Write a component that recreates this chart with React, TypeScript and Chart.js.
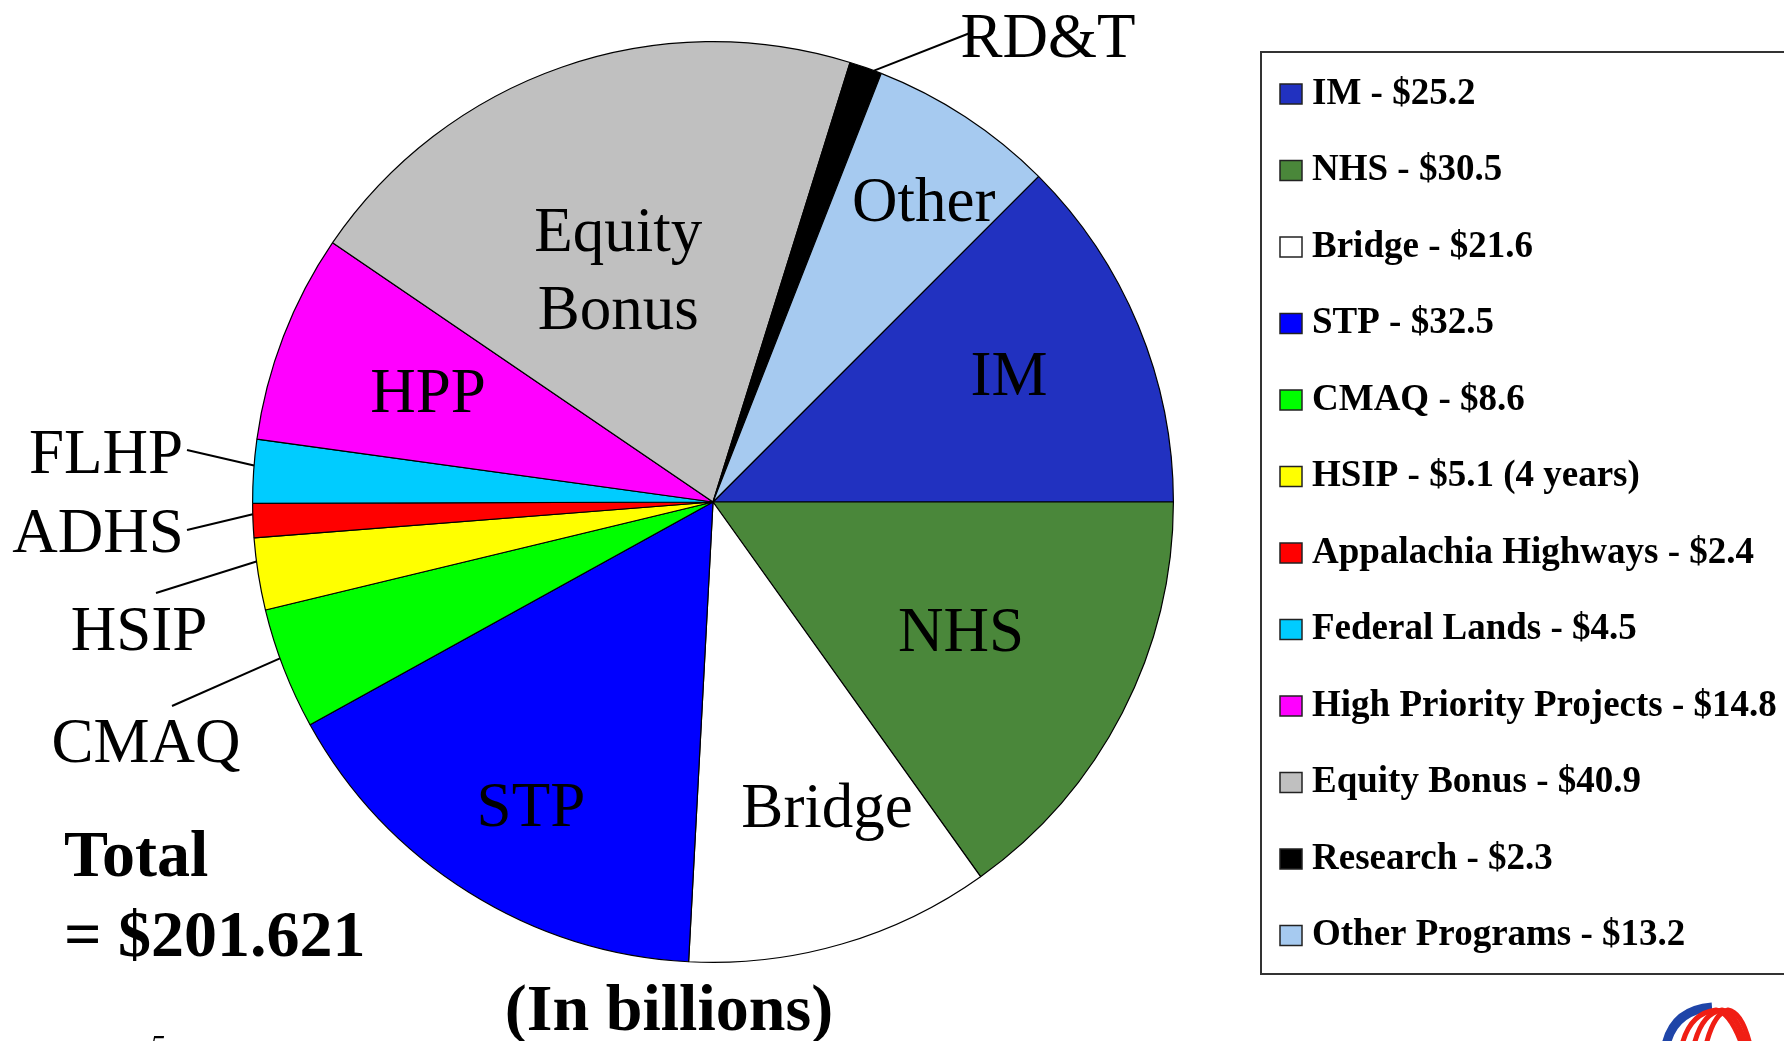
import React, { useEffect, useRef } from "react";
import { Chart, registerables } from "chart.js";

Chart.register(...registerables);

// ---- data ----
const categories = [
  "IM",
  "NHS",
  "Bridge",
  "STP",
  "CMAQ",
  "HSIP",
  "Appalachia Highways",
  "Federal Lands",
  "High Priority Projects",
  "Equity Bonus",
  "Research",
  "Other Programs",
];
const values = [25.2, 30.5, 21.6, 32.5, 8.6, 5.1, 2.4, 4.5, 14.8, 40.9, 2.3, 13.2];
const legendNotes = ["", "", "", "", "", " (4 years)", "", "", "", "", "", ""];
const sliceLabels = ["IM", "NHS", "Bridge", "STP", "CMAQ", "HSIP", "ADHS", "FLHP", "HPP", "Equity\nBonus", "RD&T", "Other"];
const totalLines = ["Total", "= $201.621"];
const unitNote = "(In billions)";
const pageNumber = "5";

// ---- styles ----
const colors = [
  "#2131C0",
  "#4A873A",
  "#FFFFFF",
  "#0000FF",
  "#00FF00",
  "#FFFF00",
  "#FF0000",
  "#00CCFF",
  "#FF00FF",
  "#C0C0C0",
  "#000000",
  "#A6CAF0",
];

// inside label placement: radial factor + angle tweak (deg)
const insidePlacement: Record<number, { f: number; da: number }> = {
  0: { f: 0.70, da: -0.8 },
  1: { f: 0.606, da: 0 },
  2: { f: 0.706, da: -4.3 },
  3: { f: 0.769, da: -1.1 },
  8: { f: 0.664, da: 0.2 },
  9: { f: 0.547, da: -2.9 },
  11: { f: 0.80, da: 1.7 },
};
// outside label placement: text center x / baseline y, leader end point, leader start angle tweak
const outsidePlacement: Record<number, { tx: number; ty: number; lx: number; ly: number; da: number }> = {
  4: { tx: 146, ty: 762, lx: 172, ly: 706, da: 1.4 },
  5: { tx: 139, ty: 650, lx: 156, ly: 593, da: 1.6 },
  6: { tx: 98, ty: 552, lx: 187, ly: 530, da: 0.8 },
  7: { tx: 106, ty: 473, lx: 187, ly: 450, da: 0.7 },
  10: { tx: 1048, ty: 57, lx: 970, ly: 33, da: 1.1 },
};

const SERIF = '"Liberation Serif", "Times New Roman", serif';
const LABEL_SIZE = 63;

const overlayPlugin = {
  id: "overlay",
  afterDraw(chart: any) {
    const ctx: CanvasRenderingContext2D = chart.ctx;
    const arcs = chart.getDatasetMeta(0).data as any[];
    ctx.save();
    ctx.fillStyle = "#000";
    ctx.strokeStyle = "#000";
    ctx.font = `${LABEL_SIZE}px ${SERIF}`;
    ctx.textAlign = "center";
    ctx.textBaseline = "alphabetic";
    const capHalf = LABEL_SIZE * 0.331;

    arcs.forEach((arc, i) => {
      const p = arc.getProps(["x", "y", "startAngle", "endAngle", "outerRadius"], true);
      const mid = (p.startAngle + p.endAngle) / 2;
      const ip = insidePlacement[i];
      if (ip) {
        const a = mid + (ip.da * Math.PI) / 180;
        const cx = p.x + Math.cos(a) * p.outerRadius * ip.f;
        const cy = p.y + Math.sin(a) * p.outerRadius * ip.f;
        const lines = sliceLabels[i].split("\n");
        const lh = 78;
        const y0 = cy - ((lines.length - 1) * lh) / 2;
        lines.forEach((ln, k) => {
          ctx.fillText(ln, cx, y0 + k * lh + capHalf);
        });
      }
      const op = outsidePlacement[i];
      if (op) {
        const a = mid + (op.da * Math.PI) / 180;
        const sx = p.x + Math.cos(a) * p.outerRadius;
        const sy = p.y + Math.sin(a) * p.outerRadius;
        ctx.beginPath();
        ctx.lineWidth = 2;
        ctx.moveTo(sx, sy);
        ctx.lineTo(op.lx, op.ly);
        ctx.stroke();
        ctx.fillText(sliceLabels[i], op.tx, op.ty);
      }
    });

    // legend box
    ctx.lineWidth = 2;
    ctx.strokeStyle = "#333";
    ctx.strokeRect(1261, 52, 600, 922);
    ctx.textAlign = "left";
    ctx.font = `bold 37px ${SERIF}`;
    categories.forEach((c, i) => {
      const cy = 94 + i * 76.5;
      ctx.fillStyle = colors[i];
      ctx.fillRect(1280, cy - 10, 22, 20);
      ctx.lineWidth = 1.5;
      ctx.strokeStyle = "#222";
      ctx.strokeRect(1280, cy - 10, 22, 20);
      ctx.fillStyle = "#000";
      ctx.fillText(`${c} - $${values[i].toFixed(1)}${legendNotes[i]}`, 1312, cy + 9.5);
    });

    // total
    ctx.font = `bold 66px ${SERIF}`;
    ctx.textAlign = "left";
    ctx.fillText(totalLines[0], 64, 876);
    ctx.fillText(totalLines[1], 64, 956);
    ctx.textAlign = "center";
    ctx.fillText(unitNote, 669, 1030);

    // page number
    ctx.font = `italic 30px ${SERIF}`;
    ctx.textAlign = "left";
    ctx.fillText(pageNumber, 150, 1055);

    // logo decoration (partially cut at the bottom edge)
    ctx.lineCap = "butt";
    ctx.lineWidth = 9;
    ctx.strokeStyle = "#1F45A8";
    ctx.beginPath();
    ctx.moveTo(1666, 1045);
    ctx.quadraticCurveTo(1674, 1010, 1712, 1007);
    ctx.stroke();
    ctx.strokeStyle = "#F01E14";
    ctx.lineWidth = 5;
    for (let k = 0; k < 3; k++) {
      ctx.beginPath();
      ctx.moveTo(1682 + k * 12, 1045);
      ctx.quadraticCurveTo(1690 + k * 12, 1013, 1716 + k * 6, 1010);
      ctx.quadraticCurveTo(1730 + k * 6, 1012, 1742 + k * 4, 1045);
      ctx.stroke();
    }
    ctx.restore();
  },
};

export default function App() {
  const ref = useRef<HTMLCanvasElement | null>(null);
  useEffect(() => {
    if (!ref.current) return;
    const chart = new Chart(ref.current, {
      type: "pie",
      data: {
        labels: categories,
        datasets: [
          {
            data: values,
            backgroundColor: colors,
            borderColor: "#000",
            borderWidth: 1.2,
          },
        ],
      },
      options: {
        animation: false,
        responsive: false,
        rotation: 45,
        layout: { padding: { left: 252, right: 610, top: 41, bottom: 78 } },
        plugins: {
          legend: { display: false },
          tooltip: { enabled: false },
        },
      },
      plugins: [overlayPlugin],
    } as any);
    return () => chart.destroy();
  }, []);
  return (
    <div style={{ position: "fixed", left: 0, top: 0, width: 1784, height: 1041, background: "#fff" }}>
      <canvas ref={ref} width={1784} height={1041} style={{ width: 1784, height: 1041, display: "block" }} />
    </div>
  );
}
